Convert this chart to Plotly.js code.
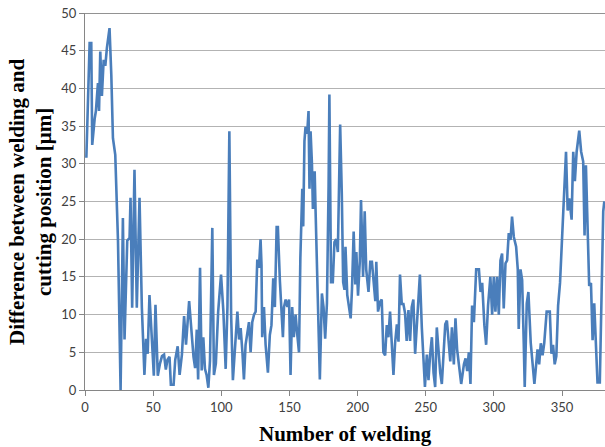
<!DOCTYPE html>
<html>
<head>
<meta charset="utf-8">
<script src="https://cdn.plot.ly/plotly-3.0.1.min.js"></script>
<style>html,body{margin:0;padding:0;background:#fff;}#chart{width:605px;height:447px;}</style>
</head>
<body>
<div id="chart"></div>
<script>
// Number of welding
var weldNo = [
1,3.4,4.6,5.3,7.1,8,9.5,10.3,11.2,12.4,13.7,14.9,16.1,18,19.3,20.5,22.2,24.2,26.1,27.8,
29,31,32.7,33.4,34.6,36.3,38,40,41.7,42.5,43.6,44.8,46,47.3,49,50.5,51.7,53.4,55,56.5,
58,59.3,60.5,62,63,65,66.2,68,69.4,71.1,72.7,74.1,76.4,77.9,79.6,80.8,82,83,84.4,85.6,
86.8,88,89.2,90.5,91.7,93.4,94.6,96,97.7,99.8,101.5,103.2,104.5,105.9,107.2,108.5,110.5,111.8,113,114.2,
115.5,116.6,117.8,119,120.3,121.5,122.7,124,125.2,126.4,127.6,128.8,129.5,130,131.3,132.5,134.2,135.6,136.8,138.1,
139.3,140.6,141.5,143,144,145.2,146,147.2,148.5,149.7,150.8,152,153.2,154.5,155.7,157,158,159.4,160.1,161,
161.8,163,164,164.7,165.5,166.5,167.2,168.5,169.2,171,172.3,173.8,175,176.2,177.5,178.7,179.3,180.5,181.8,183,
184.3,185.5,186.3,187.2,188.4,189.4,190.4,191.1,192.4,193.6,194.9,195.9,197.1,198.3,199.1,200.3,201.6,202.5,204,205.2,
206.3,208,209.3,210.5,211.7,213,213.7,215,216.5,217.7,218.9,220.2,221.4,222.6,223.8,225.1,226.3,227.5,228.8,230,
231.1,232.4,233.6,234.8,236,237.3,238.5,239.7,240.9,242.2,243.4,244.6,245.7,247.1,248.3,249.4,250.8,252,253.2,254.5,
255.7,256.9,258.1,259.4,260.6,261.8,263,264.3,265.5,266.7,268,269.2,270.6,271.8,273,274.3,276,278,279.2,280.4,
281.6,282.8,284,285.3,287,289,290.2,291.4,293,294.3,295.7,297.4,298.7,299.9,301.1,302.3,303.6,304.8,306,307.2,
308.5,309.7,310.9,312.2,313.3,314.6,316.3,317.5,318.2,319.5,320.7,321.9,322.6,324.1,325.3,327,329.7,332,333.2,334.4,
335.7,336.9,338.7,341,342.2,343.4,344.6,345.8,347.1,348.5,350,351.2,352.9,354.1,355.3,357,358.2,359.4,360.7,362.6,
364,365.5,366.5,367.5,368.7,369.9,371.2,372.4,373.6,374.8,376,377.7,379.2,380.2,381
];
// Difference between welding and cutting position [um]
var diffUm = [
30.8,46,46,32.5,36,37,40.7,37,44.9,39,43.8,43,45.4,48,41.8,33.4,31.2,19.8,0,22.8,
6.7,19.8,20.2,25.5,10.9,29.2,10.9,25.5,11,6.7,2,6.8,4.8,12.6,6.8,1.9,11.3,1.9,3.5,4.5,
4.7,2.7,4,4.4,0.7,0.7,4,5.8,2,4.7,9.8,6,11.8,7.8,4.4,2.9,8,1.4,16.2,2.6,
7,2.8,2,0.3,3.9,21.5,2,3.5,10.4,15.3,10.5,2.8,11,34.3,10,1.3,7.2,10.4,6.7,8.2,
5,1.4,6,7.4,9,5,9,10,10.4,17.3,16.2,20,16.6,7,11,6,2.3,7.3,8.6,14.8,
11,21.6,21.6,14.4,11,7,11,12,11,12,2,11,7,10,7.4,5,17.5,26.7,21.7,33,
34.9,34,37,26.7,34.3,30,24,29,23.5,11.5,1.4,12.8,11,6.8,11.5,27,39.2,14.3,14.3,19.6,
20,18.3,27,35.2,26,14.3,13.3,19,12.6,10.7,9.5,13.5,21,14,18.3,12.5,17,25.2,15,23.7,
16,13,17,17,14.5,11.8,17,10.4,11.7,12,5,4.6,8.6,7,10.4,6.5,2,6.2,8.7,6.4,
15.3,11.4,11.4,10.2,6.5,10.6,6.5,11,12,4.8,8,11,15.3,8.3,3.2,0.4,4.7,1.3,4.7,7,
2.3,0.4,8.3,4.7,2.3,0.8,5.6,8.7,9.2,6.5,3.8,8.3,3.4,9.5,5.4,3.4,0.8,3.4,4.2,2.5,
5,0.8,11.2,9,16,16,13,14.2,8.6,6,11.2,15,10,15,10.4,15,10,17.2,18.1,10.8,
16.8,17.2,20.8,19.9,23,20.3,19,16,8.1,16,14.6,6.2,0.4,11.5,13,6.3,0.8,5.4,3.4,6.2,
4.6,6.2,10.4,10.4,4.8,6,3.4,4.5,11.2,14.2,20.1,25.4,31.6,23.8,25.4,22.6,31.6,27.7,31.6,34.4,
31.6,30.3,20.5,29.8,20,13.8,14.2,6.6,11.5,5.5,1,1,15.8,23.7,25
];
var xTicks = [0, 50, 100, 150, 200, 250, 300, 350];
var yTicks = [0, 5, 10, 15, 20, 25, 30, 35, 40, 45, 50];
var xTitle = "Number of welding";
var yTitle = "Difference between welding and<br>cutting position [μm]";

var trace = {
  x: weldNo, y: diffUm, type: 'scatter', mode: 'lines',
  line: {color: '#4a7ebb', width: 2.6},
  hoverinfo: 'skip'
};
var tickFont = {family: 'Lato, "Open Sans", sans-serif', size: 13, color: '#404040'};
var titleFont = {family: '"Liberation Serif", "Times New Roman", serif', size: 21, color: '#000'};
var layout = {
  width: 605, height: 447,
  margin: {l: 85, r: 0, t: 13, b: 57},
  paper_bgcolor: '#fff', plot_bgcolor: '#fff',
  showlegend: false,
  xaxis: {
    range: [0, 381.5], tickvals: xTicks, ticktext: xTicks.map(String),
    showgrid: false, zeroline: false,
    showline: true, linecolor: '#868686', linewidth: 1,
    ticks: 'outside', ticklen: 5, tickcolor: '#868686',
    tickfont: tickFont
  },
  yaxis: {
    range: [0, 50], tickvals: yTicks, ticktext: yTicks.map(String),
    showgrid: true, gridcolor: '#b3b3b3', gridwidth: 1,
    zeroline: false,
    showline: true, linecolor: '#868686', linewidth: 1,
    ticks: 'outside', ticklen: 5, tickcolor: '#868686',
    tickfont: tickFont
  },
  shapes: [{type: 'line', xref: 'paper', yref: 'y', x0: 0, x1: 1, y0: 50, y1: 50,
            line: {color: '#6e6e6e', width: 1.5}}],
  annotations: [
    {text: yTitle, xref: 'paper', yref: 'paper', x: -0.105, y: 0.5,
     xanchor: 'center', yanchor: 'middle', textangle: -90, showarrow: false,
     font: titleFont},
    {text: xTitle, xref: 'paper', yref: 'paper', x: 0.5, y: -0.118,
     xanchor: 'center', yanchor: 'middle', showarrow: false,
     font: titleFont}
  ]
};
titleFont.weight = 'bold';
layout.annotations[0].text = '<b>' + yTitle.replace('<br>', '</b><br><b>') + '</b>';
layout.annotations[1].text = '<b>' + xTitle + '</b>';
Plotly.newPlot('chart', [trace], layout, {displayModeBar: false, staticPlot: true});
</script>
</body>
</html>
